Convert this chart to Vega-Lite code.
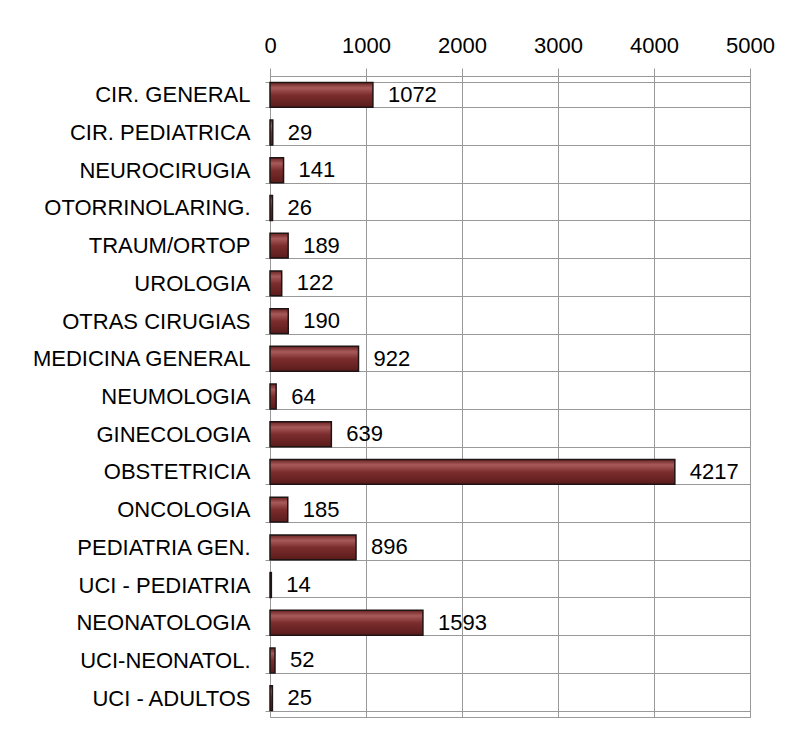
{
  "$schema": "https://vega.github.io/schema/vega-lite/v6.json",
  "width": 480,
  "height": 641,
  "padding": {"left": 20, "top": 16, "right": 5, "bottom": 5},
  "background": "white",
  "data": {"values": [
    {"servicio": "CIR. GENERAL", "valor": 1072},
    {"servicio": "CIR. PEDIATRICA", "valor": 29},
    {"servicio": "NEUROCIRUGIA", "valor": 141},
    {"servicio": "OTORRINOLARING.", "valor": 26},
    {"servicio": "TRAUM/ORTOP", "valor": 189},
    {"servicio": "UROLOGIA", "valor": 122},
    {"servicio": "OTRAS CIRUGIAS", "valor": 190},
    {"servicio": "MEDICINA GENERAL", "valor": 922},
    {"servicio": "NEUMOLOGIA", "valor": 64},
    {"servicio": "GINECOLOGIA", "valor": 639},
    {"servicio": "OBSTETRICIA", "valor": 4217},
    {"servicio": "ONCOLOGIA", "valor": 185},
    {"servicio": "PEDIATRIA GEN.", "valor": 896},
    {"servicio": "UCI - PEDIATRIA", "valor": 14},
    {"servicio": "NEONATOLOGIA", "valor": 1593},
    {"servicio": "UCI-NEONATOL.", "valor": 52},
    {"servicio": "UCI - ADULTOS", "valor": 25}
  ]},
  "encoding": {
    "y": {
      "field": "servicio", "type": "nominal", "sort": null,
      "scale": {"paddingInner": 0.34, "paddingOuter": 0.17},
      "axis": {
        "title": null, "domain": false, "tickBand": "extent",
        "grid": true, "gridColor": "#999999", "gridWidth": 1,
        "tickColor": "#999999", "tickSize": 5, "labelPadding": 15,
        "labelFont": "Liberation Sans", "labelFontSize": 22, "labelColor": "#000000",
        "labelLimit": 400,
        "minExtent": 250, "maxExtent": 250
      }
    },
    "x": {
      "field": "valor", "type": "quantitative",
      "scale": {"domain": [0, 5000], "nice": false},
      "axis": {
        "orient": "top", "title": null, "values": [0, 1000, 2000, 3000, 4000, 5000],
        "format": "d",
        "domain": false, "grid": true, "gridColor": "#999999", "gridWidth": 1,
        "tickColor": "#999999", "tickSize": 8, "labelPadding": 11,
        "labelFont": "Liberation Sans", "labelFontSize": 22, "labelColor": "#000000",
        "labelFlush": false, "minExtent": 60, "maxExtent": 60
      }
    }
  },
  "layer": [
    {
      "mark": {
        "type": "bar",
        "stroke": "#1e1414", "strokeWidth": 1.5,
        "color": {
          "gradient": "linear", "x1": 0, "y1": 0, "x2": 0, "y2": 1,
          "stops": [
            {"offset": 0, "color": "#6a2222"},
            {"offset": 0.22, "color": "#a85a5a"},
            {"offset": 0.5, "color": "#7c2d2d"},
            {"offset": 1, "color": "#5a1b1b"}
          ]
        }
      }
    },
    {
      "mark": {
        "type": "text", "align": "left", "baseline": "middle", "dx": 15,
        "font": "Liberation Sans", "fontSize": 22, "color": "#000000"
      },
      "encoding": {"text": {"field": "valor", "type": "quantitative"}}
    }
  ],
  "config": {"view": {"stroke": "#999999", "strokeWidth": 1}}
}
